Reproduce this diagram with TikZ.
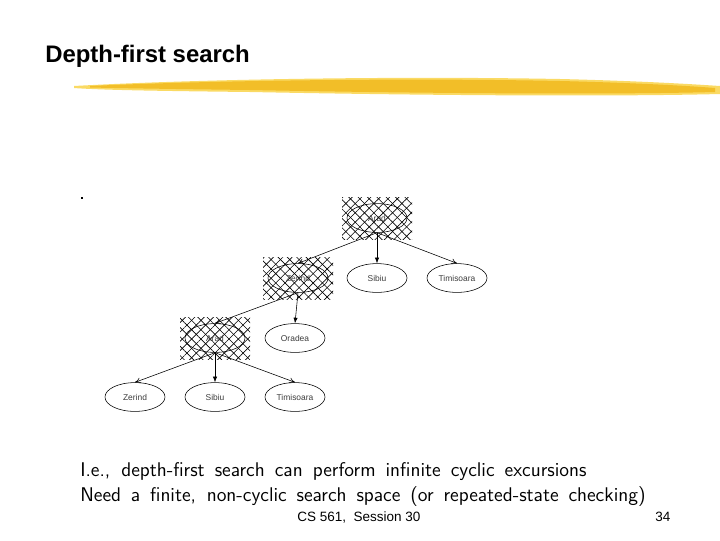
\documentclass[tikz,border=0pt]{standalone}
\usepackage{fontspec}
\newfontfamily\arialfont{Liberation Sans}
\usetikzlibrary{shapes.geometric,patterns.meta,arrows.meta}

\definecolor{brushyellow}{RGB}{242,190,40}
\definecolor{brushlight}{RGB}{250,218,100}
\definecolor{labelgray}{RGB}{60,60,60}

% crosshatched box behind a visited city
\newcommand{\hatchat}[2]{%
  \fill[pattern={Lines[angle=45,distance=4.7pt,line width=0.45pt]}] (#1-35,#2-21) rectangle (#1+35,#2+21);
  \fill[pattern={Lines[angle=-45,distance=4.7pt,line width=0.45pt]}] (#1-35,#2-21) rectangle (#1+35,#2+21);}

\tikzset{
  city/.style={draw, ellipse, thin, minimum width=1.5cm, minimum height=0.72cm, inner sep=0pt,
    font=\arialfont\fontsize{6}{7}\selectfont, text=labelgray},
  edge/.style={thin,-{To[length=4pt,width=4pt]}},
  chosen/.style={thin,-{Latex[length=4pt,width=3pt]}},
  remark/.style={anchor=base west, inner sep=0pt, font=\sffamily\fontsize{14.1}{17}\selectfont}
}

\begin{document}
\begin{tikzpicture}[x=0.025cm,y=-0.025cm]
\useasboundingbox (0,0) rectangle (720,540);

% title and brush stroke
\node[anchor=base west, inner sep=0pt, font=\arialfont\bfseries\fontsize{17}{20}\selectfont] (title) at (45,62) {Depth-first search};
\fill[brushlight] (74,86) .. controls (200,79) and (400,76) .. (560,79) .. controls (640,81) and (690,84) .. (720,86)
   -- (720,94) .. controls (600,97) and (400,95) .. (250,92) .. controls (160,91) and (100,90) .. (74,88) -- cycle;
\fill[brushyellow] (90,86) .. controls (220,80) and (420,78) .. (560,81) .. controls (640,83) and (690,86) .. (715,88)
   -- (715,92) .. controls (600,95) and (400,93) .. (250,90) .. controls (170,89) and (110,88) .. (90,87.5) -- cycle;

\fill (81,197) rectangle (83,199);

% hatched (expanded) nodes
\hatchat{377}{218}
\hatchat{298}{278}
\hatchat{215}{338}

% draw tree
\node[city] (arad) at (377,218) {Arad};
\node[city] (zerind) at (298,278) {Zerind};
\node[city] (sibiu) at (377,278) {Sibiu};
\node[city] (timisoara) at (457,278) {Timisoara};
\node[city] (arad2) at (215,338) {Arad};
\node[city] (oradea) at (295,338) {Oradea};
\node[city] (zerind2) at (135,397) {Zerind};
\node[city] (sibiu2) at (215,397) {Sibiu};
\node[city] (timisoara2) at (295,397) {Timisoara};

\draw[edge] (arad.south) -- (zerind.north);
\draw[chosen] (arad.south) -- (sibiu.north);
\draw[edge] (arad.south) -- (timisoara.north);
\draw[edge] (zerind.south) -- (arad2.north);
\draw[chosen] (zerind.south) -- (oradea.north);
\draw[edge] (arad2.south) -- (zerind2.north);
\draw[chosen] (arad2.south) -- (sibiu2.north);
\draw[edge] (arad2.south) -- (timisoara2.north);

% remarks
\node[remark] (note1) at (80,476) {\hbox to 360pt{I.e., depth-first search can perform infinite cyclic excursions}};
\node[remark] (note2) at (80,501) {\hbox to 402pt{Need a finite, non-cyclic search space (or repeated-state checking)}};

% footer
\node[anchor=base west, inner sep=0pt, font=\arialfont\fontsize{9.6}{11}\selectfont] (course) at (297,521) {CS 561,\ \ Session 30};
\node[anchor=base west, inner sep=0pt, font=\arialfont\fontsize{9.6}{11}\selectfont] (page) at (655,521) {34};
\end{tikzpicture}
\end{document}
